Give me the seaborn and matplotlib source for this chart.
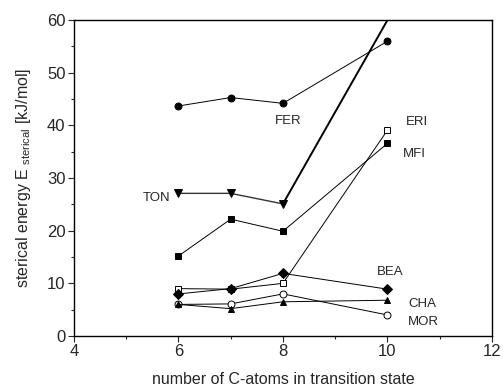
import matplotlib
matplotlib.use("Agg")
import matplotlib.pyplot as plt
import seaborn as sns
import pandas as pd
from matplotlib.ticker import MultipleLocator

sns.set_style("ticks")
plt.rcParams['font.family'] = ['Liberation Sans', 'DejaVu Sans']
plt.rcParams['mathtext.default'] = 'regular'

c_atoms = [6, 7, 8, 10]
fer = [43.7, 45.3, 44.2, 56.0]
ton = [27.1, 27.1, 25.1, 60.0]
mfi = [15.2, 22.2, 19.9, 36.6]
eri = [9.0, 8.9, 10.0, 39.1]
bea = [8.0, 9.0, 11.9, 8.9]
mor = [6.0, 6.1, 8.0, 4.0]
cha = [6.0, 5.2, 6.5, 6.8]

series = {
    "FER": (fer, "o", "black"),
    "MFI": (mfi, "s", "black"),
    "ERI": (eri, "s", "white"),
    "BEA": (bea, "D", "black"),
    "MOR": (mor, "o", "white"),
    "CHA": (cha, "^", "black"),
}

labels = {
    "FER": (8.1, 40.8, "center"),
    "TON": (5.84, 26.2, "right"),
    "ERI": (10.35, 40.6, "left"),
    "MFI": (10.3, 34.5, "left"),
    "BEA": (10.05, 12.1, "center"),
    "CHA": (10.4, 6.1, "left"),
    "MOR": (10.4, 2.7, "left"),
}

fig = plt.figure(figsize=(5.03, 3.88), dpi=100)
ax = fig.add_axes([0.147, 0.134, 0.831, 0.814])

for name, (vals, mk, fc) in series.items():
    df = pd.DataFrame({"x": c_atoms, "y": vals})
    sns.lineplot(data=df, x="x", y="y", ax=ax, color="black", linewidth=0.7,
                 marker=mk, markersize=5 if mk != "D" else 4.8,
                 markerfacecolor=fc, markeredgecolor="black",
                 markeredgewidth=0.7, zorder=3)

# TON: markers on first three, thick line to last point
df_ton = pd.DataFrame({"x": c_atoms[:3], "y": ton[:3]})
sns.lineplot(data=df_ton, x="x", y="y", ax=ax, color="#333333", linewidth=1.0,
             marker="v", markersize=6, markerfacecolor="black",
             markeredgecolor="black", markeredgewidth=0.7, zorder=3)
df_ton2 = pd.DataFrame({"x": c_atoms[2:], "y": ton[2:]})
sns.lineplot(data=df_ton2, x="x", y="y", ax=ax, color="black", linewidth=1.4, zorder=3)

for name, (lx, ly, ha) in labels.items():
    ax.text(lx, ly, name, ha=ha, va="center", fontsize=9.5)

ax.set_xlim(4, 12)
ax.set_ylim(0, 60)
ax.xaxis.set_major_locator(MultipleLocator(2))
ax.xaxis.set_minor_locator(MultipleLocator(1))
ax.yaxis.set_major_locator(MultipleLocator(10))
ax.yaxis.set_minor_locator(MultipleLocator(5))
ax.tick_params(which="major", direction="out", length=4, width=0.8, labelsize=12, pad=2)
ax.tick_params(which="minor", direction="out", length=2.5, width=0.8)
for s in ax.spines.values():
    s.set_visible(True)
    s.set_linewidth(1.0)
    s.set_color("black")

ax.set_xlabel("number of C-atoms in transition state", fontsize=11.5, labelpad=9)
ax.set_ylabel("sterical energy E $_{sterical}$ [kJ/mol]", fontsize=11.5, labelpad=10)

fig.savefig("out.png", dpi=100)
